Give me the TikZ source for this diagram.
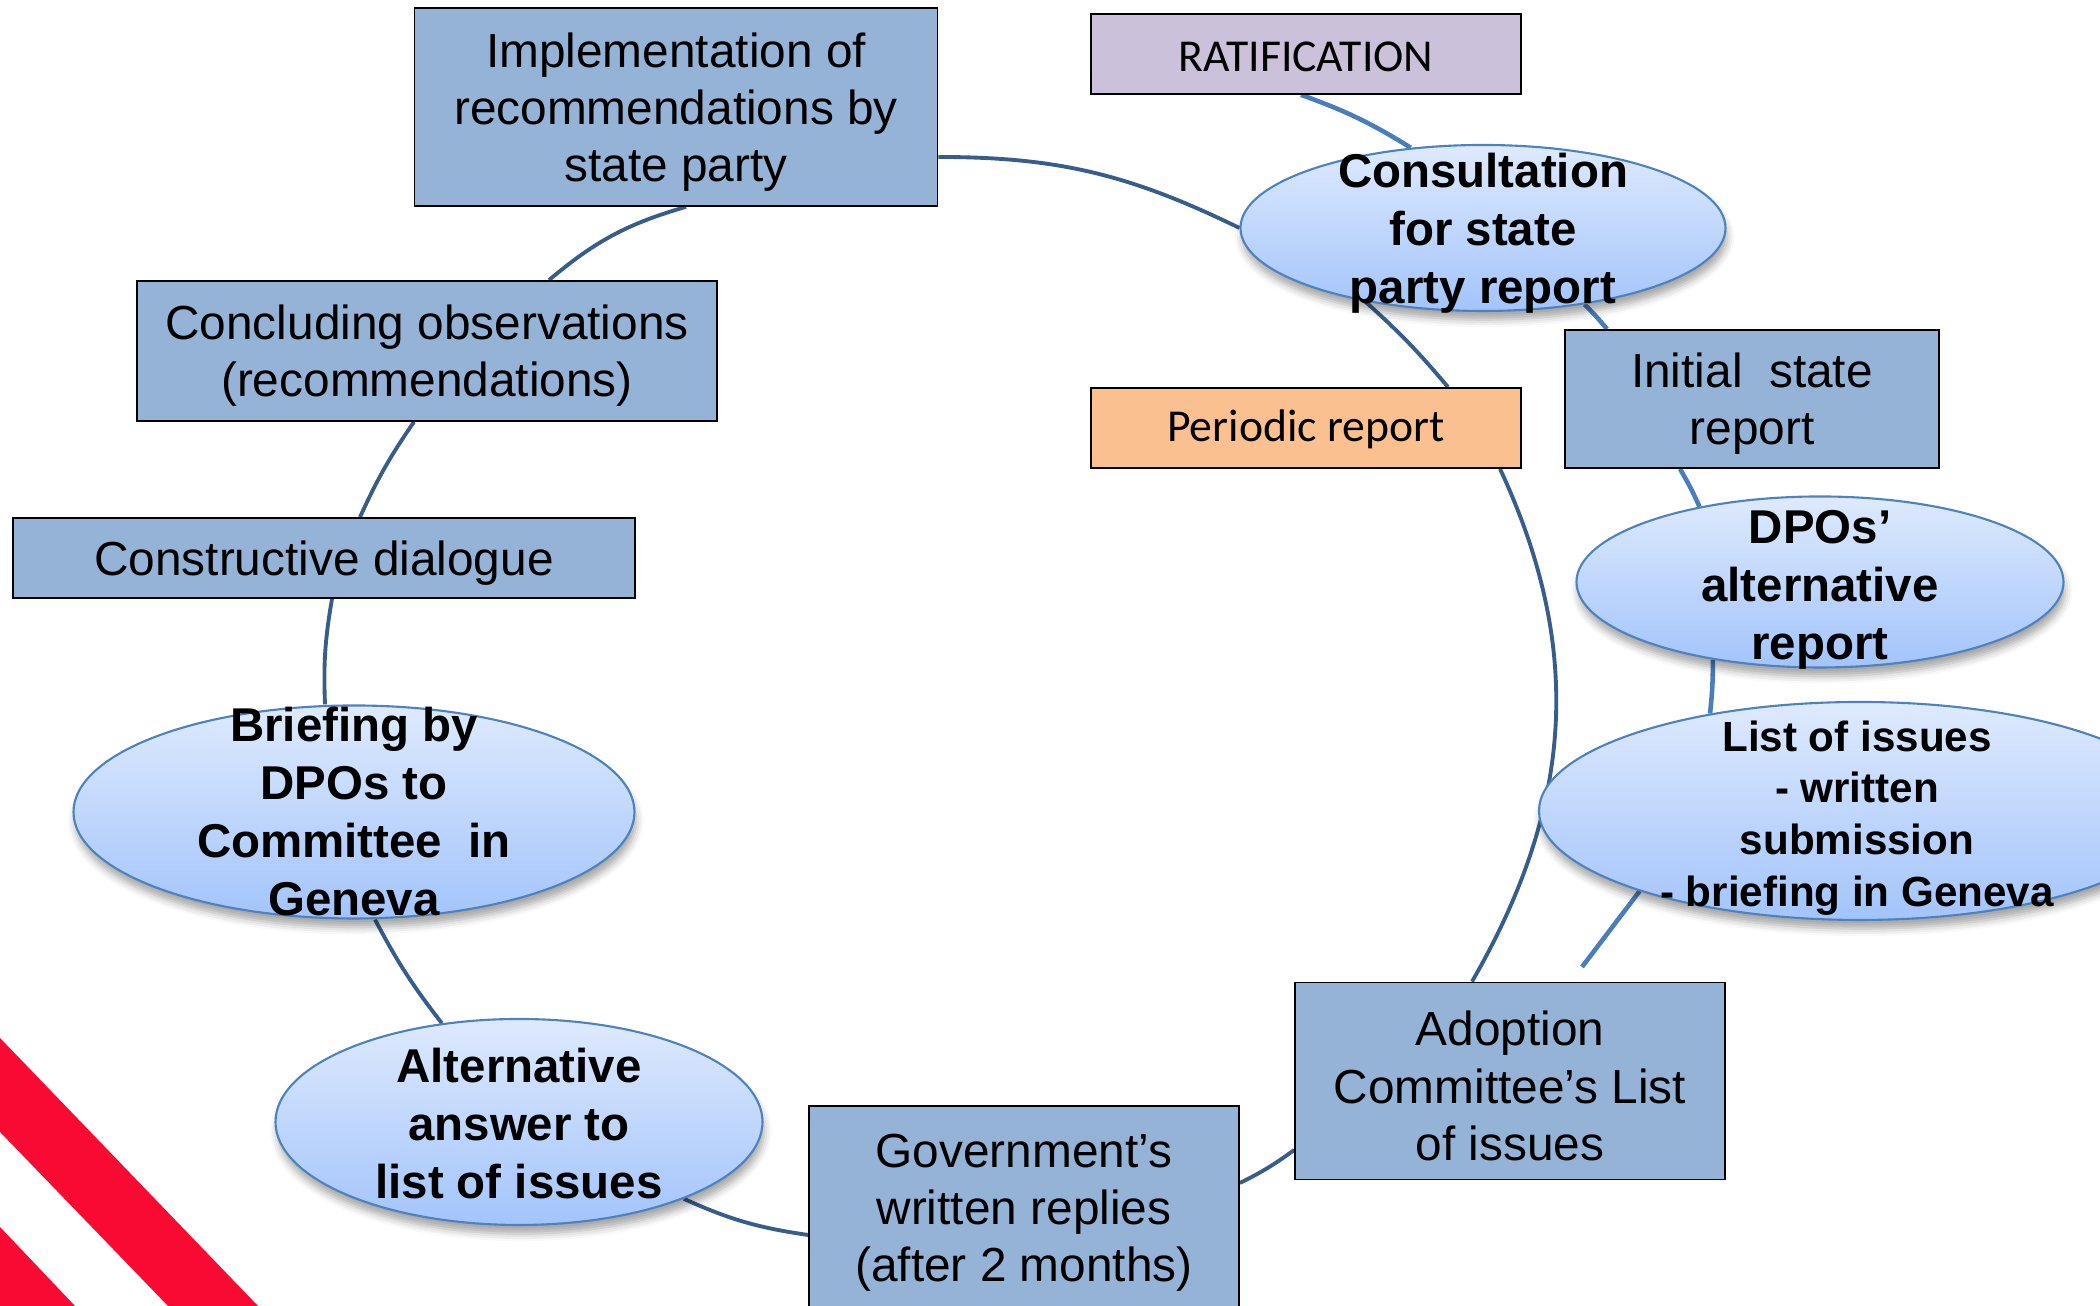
\documentclass[tikz,border=0pt]{standalone}
\usepackage{fontspec}
\setmainfont{Liberation Sans}
\newfontfamily\carlito{Carlito}
\usetikzlibrary{shapes.geometric,backgrounds,shadows.blur}

\definecolor{boxblue}{RGB}{149,179,215}
\definecolor{ratlilac}{RGB}{204,193,218}
\definecolor{perorange}{RGB}{250,192,144}
\definecolor{ovaltop}{RGB}{222,234,253}
\definecolor{ovalbot}{RGB}{163,196,251}
\definecolor{ovalline}{RGB}{79,129,189}
\definecolor{loopblue}{RGB}{56,93,138}
\definecolor{branchblue}{RGB}{74,126,187}
\definecolor{stripered}{RGB}{248,10,50}

% pushes the first line of a box a little lower
\newcommand{\lift}[1][12.7pt]{\rule{0pt}{#1}}

\tikzset{
  stagebox/.style={draw=black, line width=0.5pt, fill=boxblue, align=center, inner sep=0pt,
    font=\fontsize{13.6}{16.3}\selectfont},
  notebox/.style={stagebox, font=\carlito\fontsize{13}{15}\selectfont},
  oval/.style={ellipse, draw=ovalline, line width=0.6pt, top color=ovaltop, bottom color=ovalbot,
    inner sep=0pt, blur shadow={shadow xshift=0.5pt, shadow yshift=-2.5pt, shadow opacity=35}},
  ovaltext/.style={align=center, font=\bfseries\fontsize{13.5}{16.5}\selectfont},
  loopedge/.style={draw=loopblue, line width=1.1pt},
  branchedge/.style={draw=branchblue, line width=1.3pt},
}

\begin{document}
\begin{tikzpicture}
    \path[use as bounding box] (0,0) rectangle (21,13.06);

    % red corner stripes
    \fill[stripered] (0,2.68) -- (2.58,0) -- (1.68,0) -- (0,1.74) -- cycle;
    \fill[stripered] (0,0.79) -- (0.75,0) -- (0,0) -- cycle;

    % boxes
    \node[stagebox, minimum width=5.23cm, minimum height=1.98cm] (impl) at (6.76,11.99)
        {\lift Implementation of\\recommendations by\\state party};
    \node[stagebox, minimum width=5.80cm, minimum height=1.40cm] (conc) at (4.27,9.55)
        {\lift Concluding observations\\(recommendations)};
    \node[stagebox, minimum width=6.22cm, minimum height=0.80cm] (cdia) at (3.24,7.48)
        {\lift Constructive dialogue};
    \node[notebox, fill=ratlilac, minimum width=4.30cm, minimum height=0.80cm] (rat) at (13.06,12.52)
        {\lift[10pt]RATIFICATION};
    \node[notebox, fill=perorange, minimum width=4.30cm, minimum height=0.80cm] (per) at (13.06,8.78)
        {\lift[10pt]Periodic report};
    \node[stagebox, minimum width=3.74cm, minimum height=1.38cm] (init) at (17.52,9.07)
        {\lift Initial~ state\\report};
    \node[stagebox, minimum width=4.30cm, minimum height=1.97cm] (adop) at (15.10,2.25)
        {\lift Adoption\\Committee’s List\\of issues};
    \node[stagebox, minimum width=4.30cm, minimum height=2.02cm] (gov) at (10.24,0.99)
        {\lift Government’s\\written replies\\(after 2 months)};

    % ovals
    \node[oval, minimum width=4.85cm, minimum height=1.66cm] (cons) at (14.83,10.78) {};
    \node[ovaltext] (cons-t) at ([yshift=-0.05cm]cons) {Consultation\\for state\\party report};
    \node[oval, minimum width=4.87cm, minimum height=1.71cm] (dpo) at (18.20,7.24) {};
    \node[ovaltext] (dpo-t) at ([yshift=-0.08cm]dpo) {DPOs’\\alternative\\report};
    \node[oval, minimum width=6.42cm, minimum height=2.18cm] (lst) at (18.60,4.95) {};
    \node[ovaltext, font=\bfseries\fontsize{12}{14.7}\selectfont] (lst-t) at (18.57,4.88)
        {List of issues\\- written\\submission\\- briefing in Geneva};
    \node[oval, minimum width=5.61cm, minimum height=2.13cm] (brief) at (3.54,4.94) {};
    \node[ovaltext] (brief-t) at (brief) {Briefing by\\DPOs to\\Committee~ in\\Geneva};
    \node[oval, minimum width=4.87cm, minimum height=2.06cm] (alt) at (5.19,1.84) {};
    \node[ovaltext] (alt-t) at ([yshift=-0.02cm]alt) {Alternative\\answer to\\list of issues};

    \coordinate (lend) at (15.82,3.39);

    \begin{scope}[on background layer]
        % reporting cycle
        \draw[loopedge] ([yshift=-0.5cm]impl.east) to[out=0, in=154] (cons.west);
        \draw[loopedge] (cons.212) to[bend left=4] ([xshift=1.42cm]per.north);
        \draw[loopedge] ([xshift=1.94cm]per.south) to[out=-65, in=60] ([xshift=-0.38cm]adop.north);
        \draw[loopedge] ([yshift=-0.69cm]adop.west) to[bend left=5] ([yshift=0.24cm]gov.east);
        \draw[loopedge] ([yshift=-0.28cm]gov.west) to[bend left=8] (alt.-25);
        \draw[loopedge] (alt.128) to[bend left=5] ([xshift=0.21cm]brief.south);
        \draw[loopedge] ([xshift=-0.29cm]brief.north) to[bend left=6] ([xshift=0.08cm]cdia.south);
        \draw[loopedge] ([xshift=0.36cm]cdia.north) to[bend left=5] ([xshift=-0.13cm]conc.south);
        \draw[loopedge] ([xshift=1.22cm]conc.north) to[bend left=12] ([xshift=0.1cm]impl.south);

        % first report branch
        \draw[branchedge] ([xshift=-0.05cm]rat.south) to[bend left=6] (cons.132);
        \draw[branchedge] (cons.-37) to[bend left=3] ([xshift=-1.45cm]init.north);
        \draw[branchedge] ([xshift=-0.72cm]init.south) to[bend left=3] (dpo.148);
        \draw[branchedge] (dpo.216) to[bend left=3] (lst.147);
        \draw[branchedge] (lst.200) -- (lend);
    \end{scope}
\end{tikzpicture}
\end{document}
